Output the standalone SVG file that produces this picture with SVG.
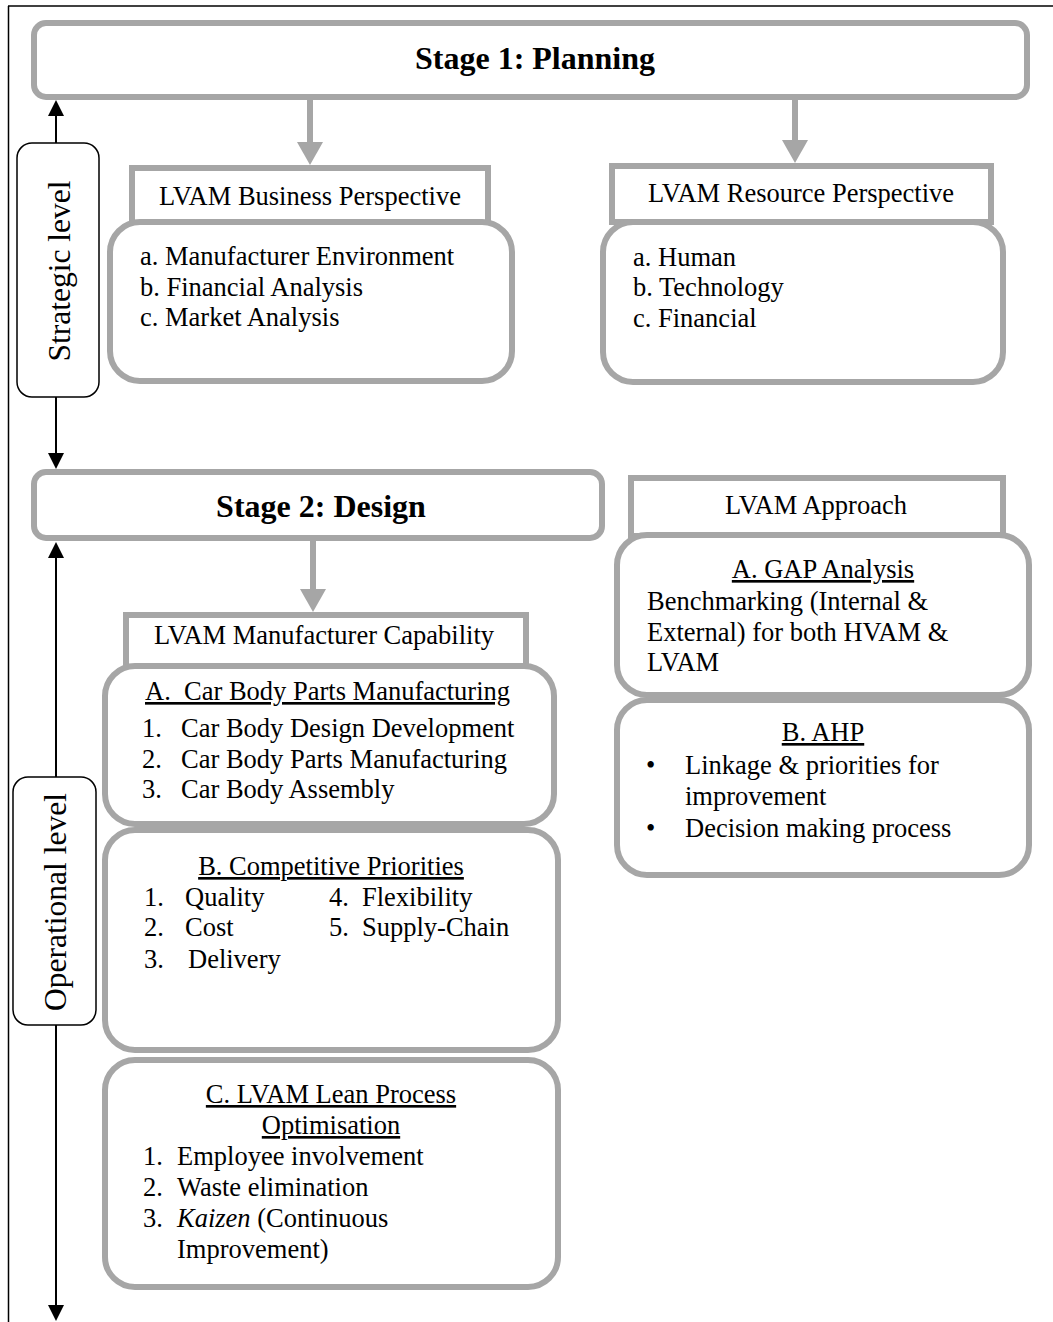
<svg xmlns="http://www.w3.org/2000/svg" width="1053" height="1322" viewBox="0 0 1053 1322">
<style>
text{font-family:"Liberation Serif","Times New Roman",serif;fill:#000}
.t{font-size:26.5px}
.h{font-size:32px;font-weight:bold}
.v{font-size:31.5px}
.u{text-decoration:underline}
.g{fill:#fff;stroke:#a6a6a6;stroke-width:6}
.lv{fill:#fff;stroke:#000;stroke-width:1.5}
.ga{stroke:#a6a6a6;stroke-width:6;fill:none}
.ba{stroke:#000;stroke-width:2;fill:none}
</style>
<defs>
<marker id="gh" markerUnits="userSpaceOnUse" markerWidth="24" markerHeight="26" viewBox="0 0 24 26" refX="0" refY="13" orient="auto"><path d="M0,0 L23,13 L0,26 z" fill="#a6a6a6"/></marker>
<marker id="bh" markerUnits="userSpaceOnUse" markerWidth="17" markerHeight="16" viewBox="0 0 17 16" refX="0" refY="8" orient="auto"><path d="M0,0 L16,8 L0,16 z" fill="#000"/></marker>
</defs>
<rect width="1053" height="1322" fill="#fff"/>
<g id="frame" stroke="#000" stroke-width="1.5" fill="none">
<line x1="8" y1="6" x2="1053" y2="6"/>
<line x1="8.5" y1="6" x2="8.5" y2="1322"/>
</g>
<g id="connectors">
<line class="ga" x1="310" y1="99" x2="310" y2="142" marker-end="url(#gh)"/>
<line class="ga" x1="795" y1="99" x2="795" y2="140" marker-end="url(#gh)"/>
<line class="ga" x1="313" y1="540" x2="313" y2="589" marker-end="url(#gh)"/>
<line class="ba" x1="56" y1="143" x2="56" y2="116" marker-end="url(#bh)"/>
<line class="ba" x1="56" y1="397" x2="56" y2="453" marker-end="url(#bh)"/>
<line class="ba" x1="56" y1="777" x2="56" y2="558" marker-end="url(#bh)"/>
<line class="ba" x1="56" y1="1025" x2="56" y2="1305" marker-end="url(#bh)"/>
</g>
<g id="stage1">
<rect class="g" x="34" y="23" width="993" height="74" rx="12"/>
<text class="h" x="535" y="69" text-anchor="middle">Stage 1: Planning</text>
</g>
<g id="strategic">
<rect class="lv" x="17" y="143" width="82" height="254" rx="15"/>
<text class="v" transform="translate(70,271) rotate(-90)" text-anchor="middle">Strategic level</text>
</g>
<g id="business-header">
<rect class="g" x="132" y="168" width="356" height="56"/>
<text class="t" x="310" y="205" text-anchor="middle">LVAM Business Perspective</text>
</g>
<g id="business">
<rect class="g" x="110" y="222" width="402" height="159" rx="30"/>
<text class="t" x="140" y="265">a. Manufacturer Environment</text>
<text class="t" x="140" y="296">b. Financial Analysis</text>
<text class="t" x="140" y="326">c. Market Analysis</text>
</g>
<g id="resource-header">
<rect class="g" x="612" y="166" width="379" height="56"/>
<text class="t" x="801" y="202" text-anchor="middle">LVAM Resource Perspective</text>
</g>
<g id="resource">
<rect class="g" x="603" y="222" width="400" height="160" rx="30"/>
<text class="t" x="633" y="266">a. Human</text>
<text class="t" x="633" y="296">b. Technology</text>
<text class="t" x="633" y="327">c. Financial</text>
</g>
<g id="stage2">
<rect class="g" x="34" y="472" width="568" height="66" rx="12"/>
<text class="h" x="321" y="517" text-anchor="middle">Stage 2: Design</text>
</g>
<g id="operational">
<rect class="lv" x="13" y="777" width="83" height="248" rx="15"/>
<text class="v" transform="translate(66,902) rotate(-90)" text-anchor="middle">Operational level</text>
</g>
<g id="capability-header">
<rect class="g" x="126" y="615" width="400" height="53"/>
<text class="t" x="324" y="644" text-anchor="middle">LVAM Manufacturer Capability</text>
</g>
<g id="box-a">
<rect class="g" x="105" y="666" width="449" height="158" rx="30"/>
<text class="t u" x="145" y="700" style="white-space:pre" xml:space="preserve">A.  Car Body Parts Manufacturing</text>
<text class="t" x="142" y="737">1.</text><text class="t" x="181" y="737">Car Body Design Development</text>
<text class="t" x="142" y="768">2.</text><text class="t" x="181" y="768">Car Body Parts Manufacturing</text>
<text class="t" x="142" y="798">3.</text><text class="t" x="181" y="798">Car Body Assembly</text>
</g>
<g id="box-b">
<rect class="g" x="105" y="830" width="453" height="220" rx="30"/>
<text class="t u" x="331" y="875" text-anchor="middle">B. Competitive Priorities</text>
<text class="t" x="144" y="906">1.</text><text class="t" x="185" y="906">Quality</text>
<text class="t" x="144" y="936">2.</text><text class="t" x="185" y="936">Cost</text>
<text class="t" x="144" y="968">3.</text><text class="t" x="188" y="968">Delivery</text>
<text class="t" x="329" y="906">4.</text><text class="t" x="362" y="906">Flexibility</text>
<text class="t" x="329" y="936">5.</text><text class="t" x="362" y="936">Supply-Chain</text>
</g>
<g id="box-c">
<rect class="g" x="105" y="1060" width="453" height="227" rx="30"/>
<text class="t u" x="331" y="1103" text-anchor="middle">C. LVAM Lean Process</text>
<text class="t u" x="331" y="1134" text-anchor="middle">Optimisation</text>
<text class="t" x="143" y="1165">1.</text><text class="t" x="177" y="1165">Employee involvement</text>
<text class="t" x="143" y="1196">2.</text><text class="t" x="177" y="1196">Waste elimination</text>
<text class="t" x="143" y="1227">3.</text><text class="t" x="177" y="1227"><tspan font-style="italic">Kaizen</tspan> (Continuous</text>
<text class="t" x="177" y="1258">Improvement)</text>
</g>
<g id="approach-header">
<rect class="g" x="631" y="478" width="372" height="58"/>
<text class="t" x="816" y="514" text-anchor="middle">LVAM Approach</text>
</g>
<g id="gap">
<rect class="g" x="617" y="535" width="412" height="160" rx="30"/>
<text class="t u" x="823" y="578" text-anchor="middle">A. GAP Analysis</text>
<text class="t" x="647" y="610">Benchmarking (Internal &amp;</text>
<text class="t" x="647" y="641">External) for both HVAM &amp;</text>
<text class="t" x="647" y="671">LVAM</text>
</g>
<g id="ahp">
<rect class="g" x="617" y="700" width="412" height="175" rx="30"/>
<text class="t u" x="823" y="741" text-anchor="middle">B. AHP</text>
<text class="t" x="646" y="774">•</text><text class="t" x="685" y="774">Linkage &amp; priorities for</text>
<text class="t" x="685" y="805">improvement</text>
<text class="t" x="646" y="837">•</text><text class="t" x="685" y="837">Decision making process</text>
</g>
</svg>
